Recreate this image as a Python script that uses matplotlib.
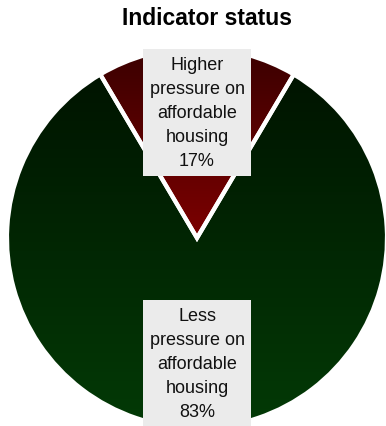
import numpy as np
import matplotlib
matplotlib.use('Agg')
import matplotlib.pyplot as plt
from matplotlib.colors import LinearSegmentedColormap

# data
labels = ['Higher\npressure on\naffordable\nhousing', 'Less\npressure on\naffordable\nhousing']
shares = [17, 83]
title = 'Indicator status'

# style
gradients = [('#3a0000', '#7c0000'), ('#001400', '#033a06')]

plt.rcParams['font.family'] = ['Liberation Sans', 'DejaVu Sans']

W, H = 386, 427
fig = plt.figure(figsize=(W / 100, H / 100), dpi=100)
ax = fig.add_axes([0, 0, 1, 1])

cx, cy, r = 197, 188, 190
start = 90 - shares[0] / sum(shares) * 360 / 2
wedges, _ = ax.pie(shares, center=(cx, cy), radius=r, startangle=start,
                   counterclock=True, frame=True,
                   wedgeprops=dict(edgecolor='white', linewidth=3))
ax.set_xlim(0, W)
ax.set_ylim(0, H)
ax.set_aspect('equal')
ax.axis('off')

# vertical gradient fill clipped to each wedge, spanning the wedge's own height
grad = np.linspace(0, 1, 256).reshape(-1, 1)
for w, (c_top, c_bot) in zip(wedges, gradients):
    verts = w.get_patch_transform().transform(w.get_path().vertices)
    y0, y1 = verts[:, 1].min(), verts[:, 1].max()
    cmap = LinearSegmentedColormap.from_list('g', [c_bot, c_top])
    w.set_facecolor('none')
    im = ax.imshow(grad, cmap=cmap, origin='lower', aspect='auto',
                   extent=(cx - r, cx + r, y0, y1), zorder=1)
    im.set_clip_path(w)
    w.set_zorder(2)

# labels
total = sum(shares)
for w, lab, val in zip(wedges, labels, shares):
    mid = np.deg2rad((w.theta1 + w.theta2) / 2)
    x = cx + 0.66 * r * np.cos(mid)
    y = cy + 0.66 * r * np.sin(mid)
    ax.text(x, y, f'{lab}\n{round(val / total * 100)}%', ha='center', va='center',
            fontsize=13, color='#111111', linespacing=1.55, zorder=5,
            bbox=dict(boxstyle='square,pad=0.35', fc='#ebebeb', ec='none'))

fig.text(0.535, 0.957, title, ha='center', va='center', fontsize=16.5, fontweight='bold')

fig.savefig('out.png', dpi=100)
